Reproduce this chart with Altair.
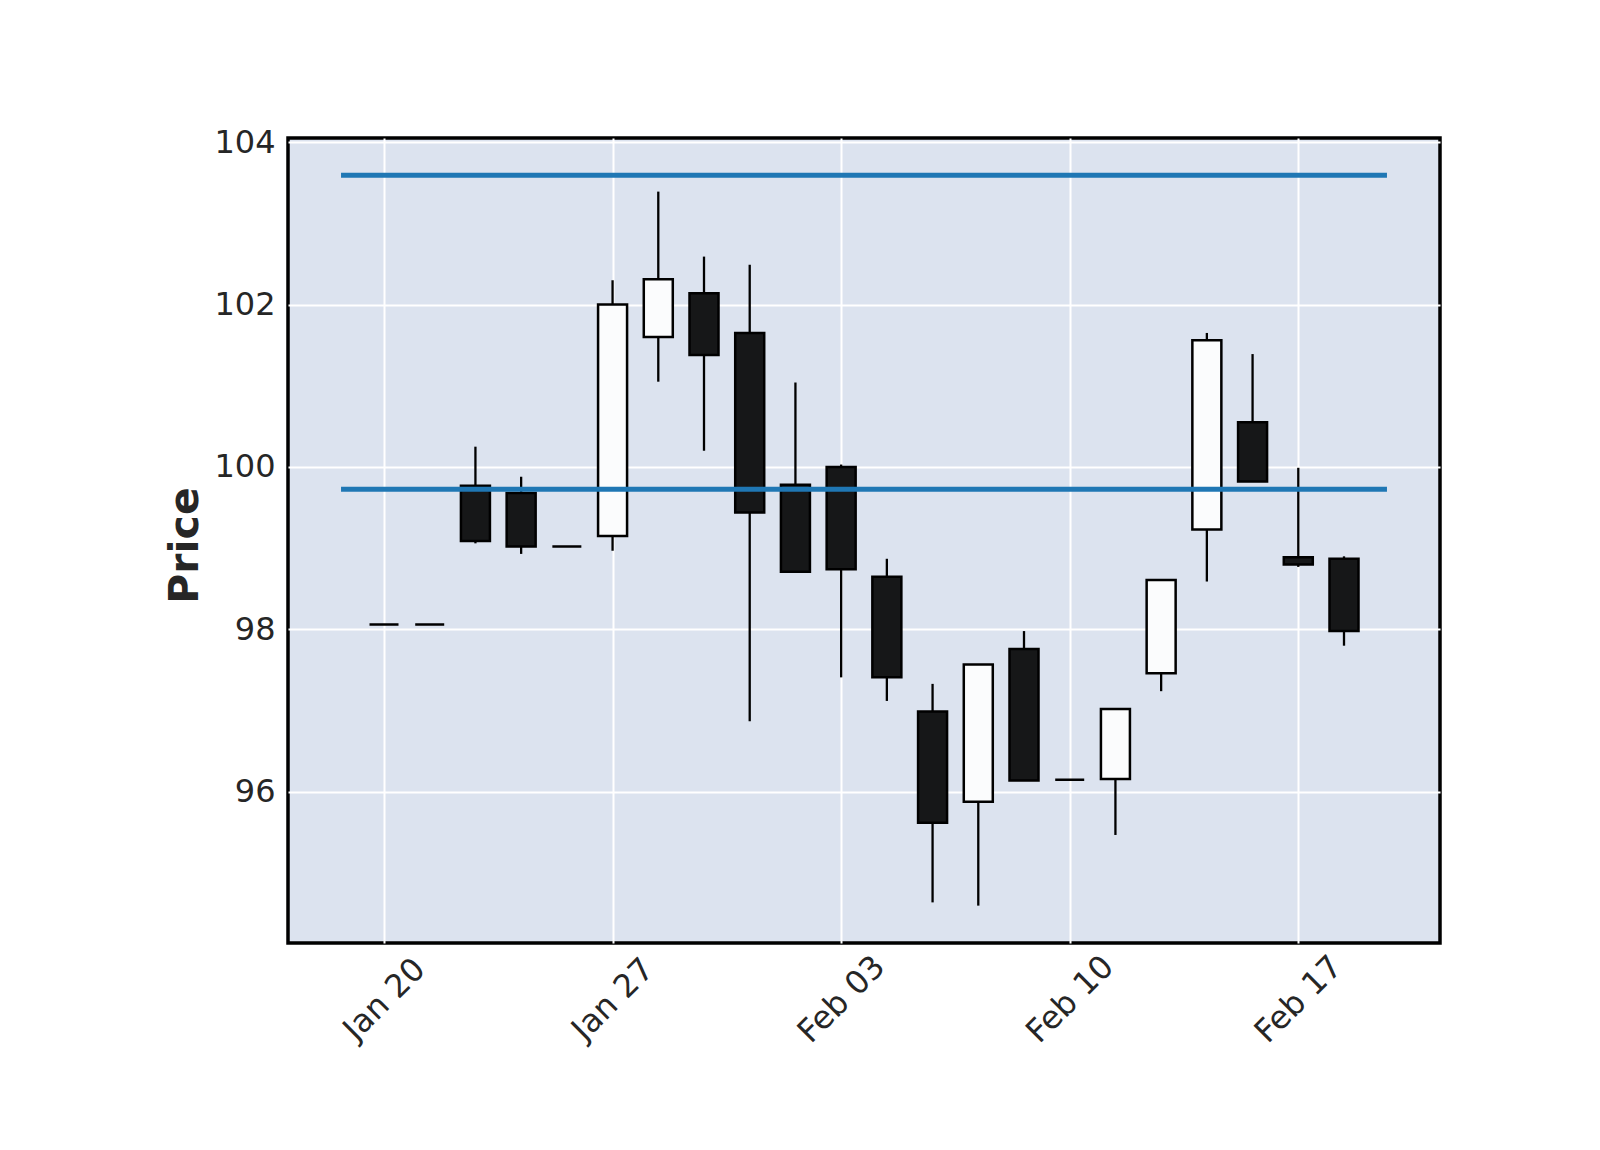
import altair as alt
import pandas as pd

# ---- data ----
dates = ["2025-01-20", "2025-01-21", "2025-01-22", "2025-01-23", "2025-01-24",
         "2025-01-27", "2025-01-28", "2025-01-29", "2025-01-30", "2025-01-31",
         "2025-02-03", "2025-02-04", "2025-02-05", "2025-02-06", "2025-02-07",
         "2025-02-10", "2025-02-11", "2025-02-12", "2025-02-13", "2025-02-14",
         "2025-02-17", "2025-02-18"]
opens = [98.06, 98.06, 99.77, 99.68, 99.02, 99.15, 101.60, 102.14, 101.65, 99.78, 100.00,
         98.65, 96.99, 95.88, 97.76, 96.15, 96.16, 97.46, 99.23, 100.55, 98.89, 98.87]
highs = [98.06, 98.06, 100.25, 99.88, 99.02, 102.30, 103.39, 102.59, 102.49, 101.04, 100.03,
         98.87, 97.33, 97.57, 97.98, 96.15, 97.02, 98.61, 101.65, 101.39, 99.99, 98.90]
lows = [98.06, 98.06, 99.06, 98.93, 99.02, 98.97, 101.05, 100.20, 96.87, 98.71, 97.41,
        97.12, 94.64, 94.60, 96.14, 96.15, 95.47, 97.24, 98.59, 99.82, 98.77, 97.80]
closes = [98.06, 98.06, 99.09, 99.02, 99.02, 102.00, 102.31, 101.38, 99.44, 98.71, 98.74,
          97.41, 95.62, 97.57, 96.14, 96.15, 97.02, 98.61, 101.56, 99.82, 98.80, 97.98]
hline_levels = [103.59, 99.725]
tick_positions = [0, 5, 10, 15, 20]
tick_labels = ["Jan 20", "Jan 27", "Feb 03", "Feb 10", "Feb 17"]
y_ticks = [96, 98, 100, 102, 104]

df = pd.DataFrame({
    "date": dates, "idx": list(range(len(dates))),
    "open": opens, "high": highs, "low": lows, "close": closes,
})
df["dir"] = ["up" if c >= o else "down" for o, c in zip(opens, closes)]

hl = pd.DataFrame({"level": hline_levels})
hl["x0"] = -0.94
hl["x1"] = len(dates) - 1 + 0.94

label_expr = "[" + ",".join("'%s'" % t for t in tick_labels) + "][indexof([" + \
    ",".join(str(p) for p in tick_positions) + "], datum.value)]"

xscale = alt.Scale(domain=[-2.1, 23.1], nice=False, zero=False, padding=0)
yscale = alt.Scale(domain=[94.14, 104.05], nice=False, zero=False, padding=0)

xaxis = alt.Axis(values=tick_positions, labelExpr=label_expr, title=None,
                 labelAngle=-45, labelAlign="center", labelBaseline="middle",
                 labelPadding=56, ticks=False, tickSize=0, domain=False,
                 grid=True, gridColor="white", gridWidth=2,
                 labelFont="DejaVu Sans", labelFontSize=32, labelColor="#262626")
yaxis = alt.Axis(values=y_ticks, format="d", title="Price", ticks=False, tickSize=0,
                 domain=False, grid=True, gridColor="white", gridWidth=2, labelPadding=13,
                 labelFont="DejaVu Sans", labelFontSize=32, labelColor="#262626",
                 titleFont="DejaVu Sans", titleFontSize=41, titleFontWeight="bold",
                 titleColor="#262626", titleAngle=-90, titleAlign="center",
                 titleBaseline="alphabetic", titleX=-91, titleY=407)

base = alt.Chart(df)

wicks = base.mark_rule(color="black", strokeWidth=2.3).encode(
    x=alt.X("idx:Q", scale=xscale, axis=xaxis),
    y=alt.Y("low:Q", scale=yscale, axis=yaxis),
    y2="high:Q",
)

bodies = base.mark_bar(size=29, stroke="black", strokeWidth=2.5, opacity=1).encode(
    x=alt.X("idx:Q", scale=xscale),
    y=alt.Y("open:Q", scale=yscale),
    y2="close:Q",
    fill=alt.Fill("dir:N", scale=alt.Scale(domain=["up", "down"],
                                           range=["#fbfcfd", "#161718"]), legend=None),
)

hlines = alt.Chart(hl).mark_rule(color="#1f77b4", strokeWidth=5).encode(
    x=alt.X("x0:Q", scale=xscale),
    x2="x1:Q",
    y=alt.Y("level:Q", scale=yscale),
)

chart = alt.layer(wicks, bodies, hlines).properties(
    width=1152, height=805,
    autosize=alt.AutoSizeParams(type="none"),
    padding={"left": 280, "top": 130, "right": 150, "bottom": 200},
).configure_view(
    fill="#DCE3EF", stroke="black", strokeWidth=3.5
)

chart.save("out.html", embed_options={"renderer": "svg", "actions": False})
